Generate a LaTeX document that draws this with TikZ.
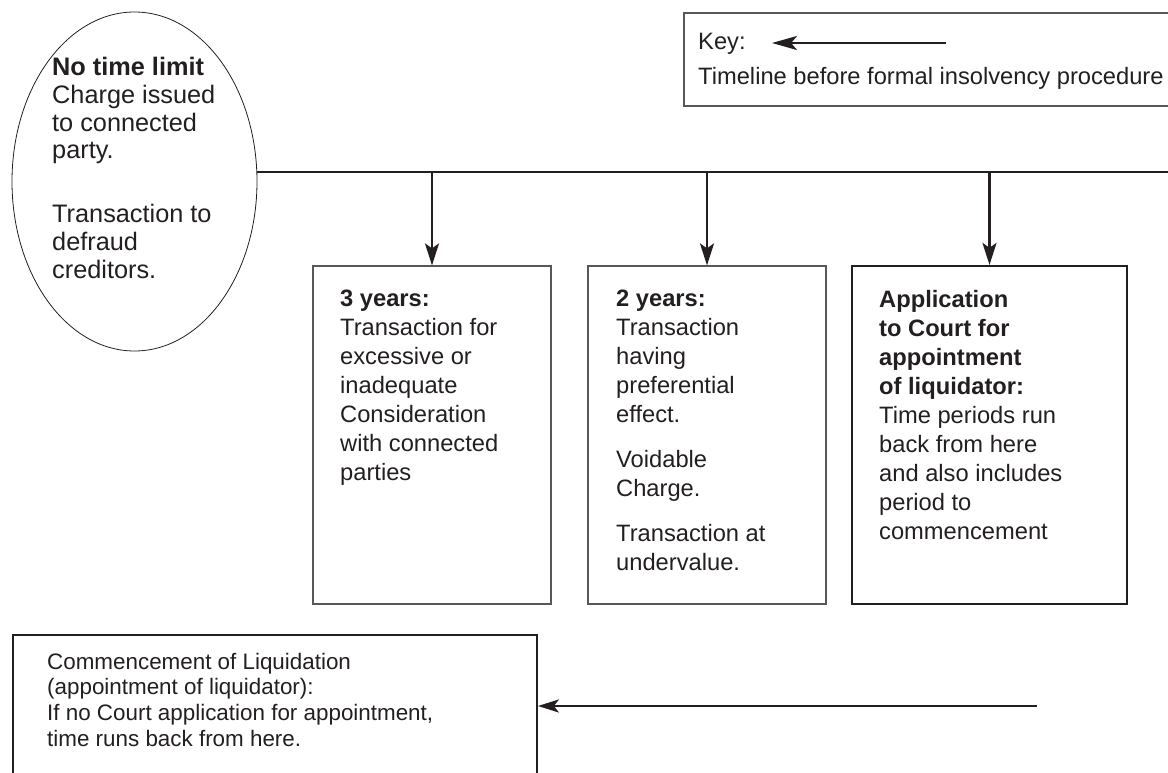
\documentclass[tikz,border=0pt]{standalone}
\usepackage{fontspec}
\setmainfont{Liberation Sans}
\usetikzlibrary{shapes.geometric,arrows.meta}
\definecolor{ink}{HTML}{231F20}
\begin{document}
\begin{tikzpicture}[x=1pt,y=-1pt,
  txt/.style={inner sep=0pt, anchor=north west, align=left, text=ink,
    font=\fontsize{23.7}{29}\selectfont},
  bigtxt/.style={txt, font=\fontsize{25.3}{27.8}\selectfont},
  smalltxt/.style={txt, font=\fontsize{22.4}{25.7}\selectfont},
  thinbox/.style={draw=ink!75, line width=1.2pt, inner sep=0pt},
  thickbox/.style={draw=ink, line width=2.2pt, inner sep=0pt},
  flow/.style={draw=ink, line width=2.6pt,
    -{Stealth[length=22pt,width=14pt,inset=5pt]}},
]
\useasboundingbox (0,0) rectangle (1168,773);
\clip (0,0) rectangle (1168,773);

% key
\node[thinbox, minimum width=516pt, minimum height=93pt] (key) at (942,59.5) {};
\node[txt] (keytxt) at (698,32.5) {Key:\\[6pt]Timeline before formal insolvency procedure};
\coordinate (keyA) at (946,43);
\coordinate (keyB) at (772,43);
\draw[flow, -{Stealth[length=25pt,width=14pt,inset=6pt]}] (keyA) -- (keyB);

% no time limit
\node[draw=ink, line width=0.8pt, ellipse, minimum width=245pt, minimum height=339pt, inner sep=0pt] (lim) at (134.5,181.5) {};
\node[bigtxt] (limtxt) at (52,57) {\textbf{No time limit}\\Charge issued\\to connected\\party.\\[35.8pt]Transaction to\\defraud\\creditors.};

% timeline
\coordinate (tlend) at (1175,172);
\draw[ink, line width=2.6pt] (tlend -| lim.east) -- (tlend);

% periods
\node[thinbox, minimum width=238pt, minimum height=338pt] (three) at (432,435) {};
\node[thinbox, minimum width=238pt, minimum height=338pt] (two) at (707,435) {};
\node[thickbox, minimum width=275pt, minimum height=338pt] (app) at (989.5,435) {};

\node[txt] (threetxt) at (340,289.7) {\textbf{3 years:}\\Transaction for\\excessive or\\inadequate\\Consideration\\with connected\\parties};
\node[txt] (twotxt) at (616,289.7) {\textbf{2 years:}\\Transaction\\having\\preferential\\effect.\\[16pt]Voidable\\Charge.\\[16pt]Transaction at\\undervalue.};
\node[txt] (apptxt) at (879,289.7) {\textbf{Application}\\\textbf{to Court for}\\\textbf{appointment}\\\textbf{of liquidator:}\\Time periods run\\back from here\\and also includes\\period to\\commencement};

\draw[flow] (three.north |- tlend) -- (three.north);
\draw[flow] (two.north |- tlend) -- (two.north);
\draw[flow] (app.north |- tlend) -- (app.north);

% commencement
\node[draw=ink, line width=1.8pt, inner sep=0pt, minimum width=524pt, minimum height=165pt] (comm) at (275,717.5) {};
\node[smalltxt] (commtxt) at (47,652.7) {Commencement of Liquidation\\(appointment of liquidator):\\If no Court application for appointment,\\time runs back from here.};
\coordinate (cstart) at (1037,706);
\draw[flow, -{Stealth[length=21pt,width=13pt,inset=5pt]}] (cstart) -- (cstart -| comm.east);
\end{tikzpicture}
\end{document}
